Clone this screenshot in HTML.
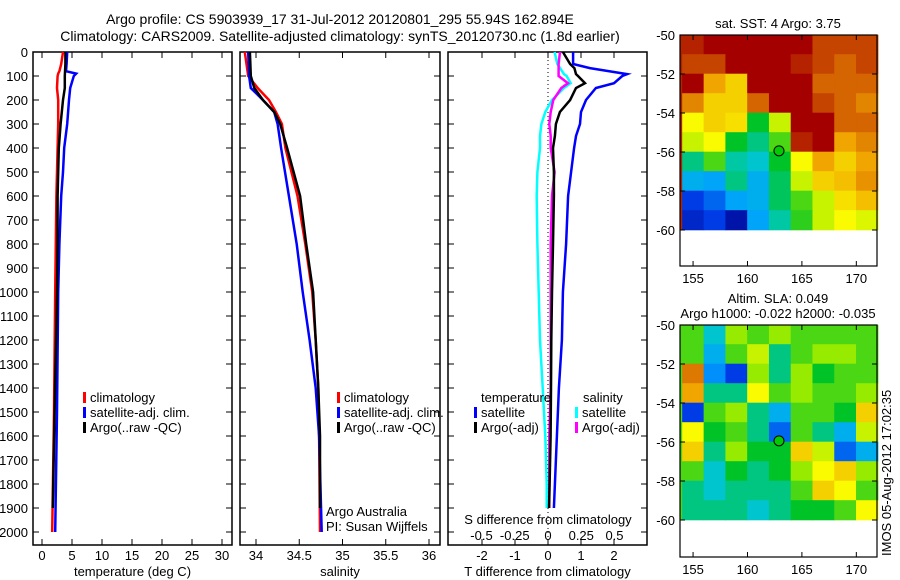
<!DOCTYPE html>
<html><head><meta charset="utf-8"><style>
body{margin:0;background:#fff;}
svg{display:block;font-family:"Liberation Sans",sans-serif;}
</style></head><body>
<svg id="c" width="900" height="580" xmlns="http://www.w3.org/2000/svg">
<text x="340" y="24" font-size="14" text-anchor="middle">Argo profile: CS 5903939_17 31-Jul-2012 20120801_295 55.94S 162.894E</text>
<text x="340" y="41" font-size="14" text-anchor="middle">Climatology: CARS2009. Satellite-adjusted climatology: synTS_20120730.nc (1.8d earlier)</text>
<g id="g"></g>
<text transform="translate(891,556) rotate(-90)" font-size="13">IMOS 05-Aug-2012 17:02:35</text>
</svg>
<script>
// ---- data ----
const depthT = [0,50,80,90,100,150,200,300,400,500,600,800,1000,1500,2000];
const tClim  = [3.5,3.2,2.9,2.7,2.6,2.5,2.7,2.7,2.6,2.5,2.4,2.3,2.2,2.0,1.7];
const tSat   = [4.2,4.1,4.0,5.7,5.3,4.7,4.5,4.2,3.7,3.5,3.2,2.9,2.7,2.5,2.2];
const depthA = [0,50,100,150,200,250,300,400,600,800,1000,1500,1900];
const tArgo  = [3.9,3.9,3.8,3.8,3.5,3.3,3.1,2.8,2.6,2.6,2.5,2.1,1.8];
const depthS = [0,100,150,200,250,300,400,600,800,1000,1200,1400,1600,2000];
const sClim  = [33.87,33.91,34.02,34.15,34.23,34.3,34.34,34.48,34.57,34.65,34.69,34.72,34.73,34.74];
const sSat   = [33.91,33.92,33.94,34.08,34.21,34.25,34.29,34.38,34.47,34.54,34.62,34.69,34.73,34.76];
const sArgo  = [33.93,33.94,33.98,34.08,34.21,34.28,34.36,34.51,34.58,34.66,34.69,34.72,34.74,34.74];
const depthD = [0,50,67,92,100,130,150,200,250,300,350,400,500,600,800,1000,1200,1400,1600,1800,1900];
const dTSat  = [0.76,0.76,1.27,2.4,2.25,2.0,1.45,1.15,1.0,0.97,0.85,0.79,0.7,0.61,0.55,0.45,0.42,0.33,0.27,0.21,0.18];
const dTArgo = [0.45,0.67,0.8,0.85,0.91,1.12,0.85,0.67,0.36,0.24,0.21,0.15,0.18,0.18,0.15,0.12,0.1,0.09,0.08,0.05,0.03];
const dSArgo = [0.09,0.08,0.08,0.08,0.08,0.15,0.1,0.04,0.02,0.01,0.02,0.02,0.05,0.03,0.02,0.02,0.02,0.02,0.01,0.01,0.01];
const dSSat  = [0.05,0.07,0.09,0.12,0.14,0.17,0.12,0.03,-0.02,-0.05,-0.06,-0.06,-0.08,-0.085,-0.08,-0.07,-0.06,-0.04,-0.02,-0.01,-0.01];
const depthTicks = [0,100,200,300,400,500,600,700,800,900,1000,1100,1200,1300,1400,1500,1600,1700,1800,1900,2000];
const tTicks = [0,5,10,15,20,25,30];
const sTicks = [34,34.5,35,35.5,36];
const sTickLabels = ["34","34.5","35","35.5","36"];
const dTTicks = [-2,-1,0,1,2];
const dSTicks = [-0.5,-0.25,0,0.25,0.5];
const dSTickLabels = ["-0.5","-0.25","0","0.25","0.5"];
const lonTicks = [155,160,165,170];
const latTicks = [-50,-52,-54,-56,-58,-60];
const sstGrid = [
[0.95,1,1,1,1,1,0.9,0.9,0.9],
[0.9,0.9,1,1,1,0.95,0.9,0.85,0.9],
[1,0.75,0.7,1,1,1,0.85,0.85,0.85],
[0.8,0.7,0.7,0.85,1,1,0.9,0.85,0.8],
[0.65,0.7,0.68,0.45,0.6,1,1,0.85,0.85],
[0.6,0.65,0.45,0.4,0.5,0.95,1,0.75,0.8],
[0.4,0.5,0.38,0.35,0.45,0.65,0.75,0.7,0.75],
[0.3,0.28,0.4,0.3,0.42,0.6,0.7,0.72,0.78],
[0.15,0.2,0.28,0.3,0.42,0.5,0.6,0.68,0.72],
[0.1,0.15,0.05,0.28,0.38,0.48,0.6,0.65,0.62]];
const slaGrid = [
[0.5,0.35,0.55,0.5,0.55,0.5,0.5,0.5,0.5],
[0.5,0.3,0.5,0.6,0.4,0.5,0.55,0.55,0.5],
[0.82,0.25,0.15,0.55,0.4,0.55,0.45,0.5,0.5],
[0.75,0.4,0.4,0.65,0.5,0.55,0.5,0.5,0.55],
[0.15,0.5,0.55,0.4,0.3,0.5,0.5,0.45,0.7],
[0.65,0.45,0.5,0.4,0.2,0.5,0.4,0.3,0.6],
[0.7,0.4,0.55,0.45,0.45,0.7,0.6,0.2,0.3],
[0.5,0.35,0.45,0.4,0.45,0.55,0.65,0.7,0.55],
[0.4,0.35,0.4,0.4,0.4,0.5,0.7,0.65,0.5],
[0.4,0.4,0.4,0.35,0.4,0.45,0.45,0.5,0.65]];
const argoLon = 162.894, argoLat = -55.94;

// ---- drawing ----
const NS="http://www.w3.org/2000/svg", G=document.getElementById('g');
function el(t,a,p){const e=document.createElementNS(NS,t);for(const k in a)e.setAttribute(k,a[k]);(p||G).appendChild(e);return e;}
function txt(x,y,s,anchor,size){const e=el('text',{x:x,y:y,'font-size':size||13,'text-anchor':anchor||'start'});e.textContent=s;return e;}
const Y0=52, Y1=545;
const yD = d => 52 + d*0.24;
function panel(x0,x1,name,xs,ticks,labels,xlabel,topTicks){
  const r=el('rect',{x:x0,y:Y0,width:x1-x0,height:Y1-Y0,fill:'none',stroke:'#000','stroke-width':1.5});
  
  
  depthTicks.forEach(d=>{el('line',{x1:x0,x2:x0+6,y1:yD(d),y2:yD(d),stroke:'#000'});el('line',{x1:x1-6,x2:x1,y1:yD(d),y2:yD(d),stroke:'#000'});});
  ticks.forEach((v,i)=>{const x=xs(v);el('line',{x1:x,x2:x,y1:Y1,y2:Y1-6,stroke:'#000'});if(topTicks)el('line',{x1:x,x2:x,y1:Y0,y2:Y0+6,stroke:'#000'});
    const t=txt(x,560,labels[i],'middle');});
  const xl=txt((x0+x1)/2,576,xlabel,'middle');
  
  
}
function line(xs,vals,depths,color,name,w){
  const pts=vals.map((v,i)=>xs(v).toFixed(1)+','+yD(depths[i]).toFixed(1)).join(' ');
  const p=el('polyline',{points:pts,fill:'none',stroke:color,'stroke-width':w||2.5});
  
  
}
function legend(x,y,color,label){el('rect',{x:x-7,y:y-10,width:3,height:11,fill:color});const t=txt(x,y,label);}
depthTicks.forEach(d=>{const t=txt(28,yD(d)+5,String(d),'end');});
// panel 1
const xT=v=>42+6*v;
panel(33,232,'temperature-panel',xT,tTicks,tTicks.map(String),'temperature (deg C)',true);
line(xT,tClim,depthT,'#f00','temp-climatology-line');
line(xT,tSat,depthT,'#00f','temp-satellite-line');
line(xT,tArgo,depthA,'#000','temp-argo-line');
legend(90,402,'#f00','climatology');legend(90,417,'#00f','satellite-adj. clim.');legend(90,432,'#000','Argo(..raw -QC)');
// panel 2
const xS=v=>256+86.5*(v-34);
panel(240,440,'salinity-panel',xS,sTicks,sTickLabels,'salinity',true);
line(xS,sClim,depthS,'#f00','sal-climatology-line');
line(xS,sSat,depthS,'#00f','sal-satellite-line');
line(xS,sArgo,depthS.slice(0,13).concat([1900]),'#000','sal-argo-line');
legend(344,402,'#f00','climatology');legend(344,417,'#00f','satellite-adj. clim.');legend(344,432,'#000','Argo(..raw -QC)');
txt(326,516,'Argo Australia');txt(326,531,'PI: Susan Wijffels');
// panel 3
const xDT=v=>548+33*v, xDS=v=>548+133*v;
panel(448,647,'difference-panel',xDT,dTTicks,dTTicks.map(String),'T difference from climatology',true);
dSTicks.forEach((v,i)=>{const t=txt(xDS(v),540,dSTickLabels[i],'middle');});
txt(548,524,'S difference from climatology','middle');
el('line',{x1:548,x2:548,y1:Y0,y2:Y1,stroke:'#000','stroke-dasharray':'1,3'});
line(xDS,dSSat,depthD,'#0ff','s-diff-satellite-line');
line(xDS,dSArgo,depthD,'#f0f','s-diff-argo-line');
line(xDT,dTArgo,depthD,'#000','t-diff-argo-line');
line(xDT,dTSat,depthD,'#00f','t-diff-satellite-line');
txt(481,402,'temperature');txt(583,402,'salinity');
legend(481,417,'#00f','satellite');legend(481,432,'#000','Argo(-adj)');
legend(582,417,'#0ff','satellite');legend(582,432,'#f0f','Argo(-adj)');
// maps
const cmapStops=[[0,[0,0,140]],[0.15,[0,60,230]],[0.27,[0,160,255]],[0.36,[0,200,200]],[0.45,[0,195,40]],[0.55,[150,235,0]],[0.65,[250,250,0]],[0.75,[240,165,0]],[0.86,[210,95,0]],[1,[165,0,0]]];
function cmap(v){v=Math.max(0,Math.min(1,v));for(let i=1;i<cmapStops.length;i++){const [a,ca]=cmapStops[i-1],[b,cb]=cmapStops[i];if(v<=b){const t=(v-a)/(b-a);return 'rgb('+ca.map((c,k)=>Math.round(c+(cb[k]-c)*t)).join(',')+')';}}}
function map(y0,yb,grid,name,title1,title2){
  const x0=680,x1=877;
  const lx=v=>x0+(v-153.8)*(x1-x0)/18.1, ly=v=>y0+(-50-v)*19.5;
  grid.forEach((row,i)=>row.forEach((v,j)=>{const r=el('rect',{x:lx(154+2*j)-0.3,y:ly(-50-i)-0.3,width:lx(156)-lx(154)+0.6,height:19.5+0.6,fill:cmap(v)});
    
    }));
  el('rect',{x:x0,y:y0,width:lx(154)-x0,height:195,fill:cmap(grid[0][0])});
  const f=el('rect',{x:x0,y:y0,width:x1-x0,height:yb-y0,fill:'none',stroke:'#000','stroke-width':1.2});
  
  
  el('circle',{cx:lx(argoLon),cy:ly(argoLat),r:5,fill:'#0c0',stroke:'#000'});
  lonTicks.forEach(v=>{el('line',{x1:lx(v),x2:lx(v),y1:yb,y2:yb-5,stroke:'#000'});el('line',{x1:lx(v),x2:lx(v),y1:y0,y2:y0+5,stroke:'#000'});txt(lx(v),yb+17,String(v),'middle');});
  latTicks.forEach(v=>{el('line',{x1:x0,x2:x0+5,y1:ly(v),y2:ly(v),stroke:'#000'});el('line',{x1:x1-5,x2:x1,y1:ly(v),y2:ly(v),stroke:'#000'});txt(675,ly(v)+5,String(v),'end');});
  if(title2){txt(778,y0-22,title1,'middle');txt(778,y0-7,title2,'middle');}else txt(778,y0-7,title1,'middle');
}
map(35,266,sstGrid,'sst-map','sat. SST: 4 Argo: 3.75');
map(325,557,slaGrid,'sla-map','Altim. SLA: 0.049','Argo h1000: -0.022 h2000: -0.035');
</script>
</body></html>
